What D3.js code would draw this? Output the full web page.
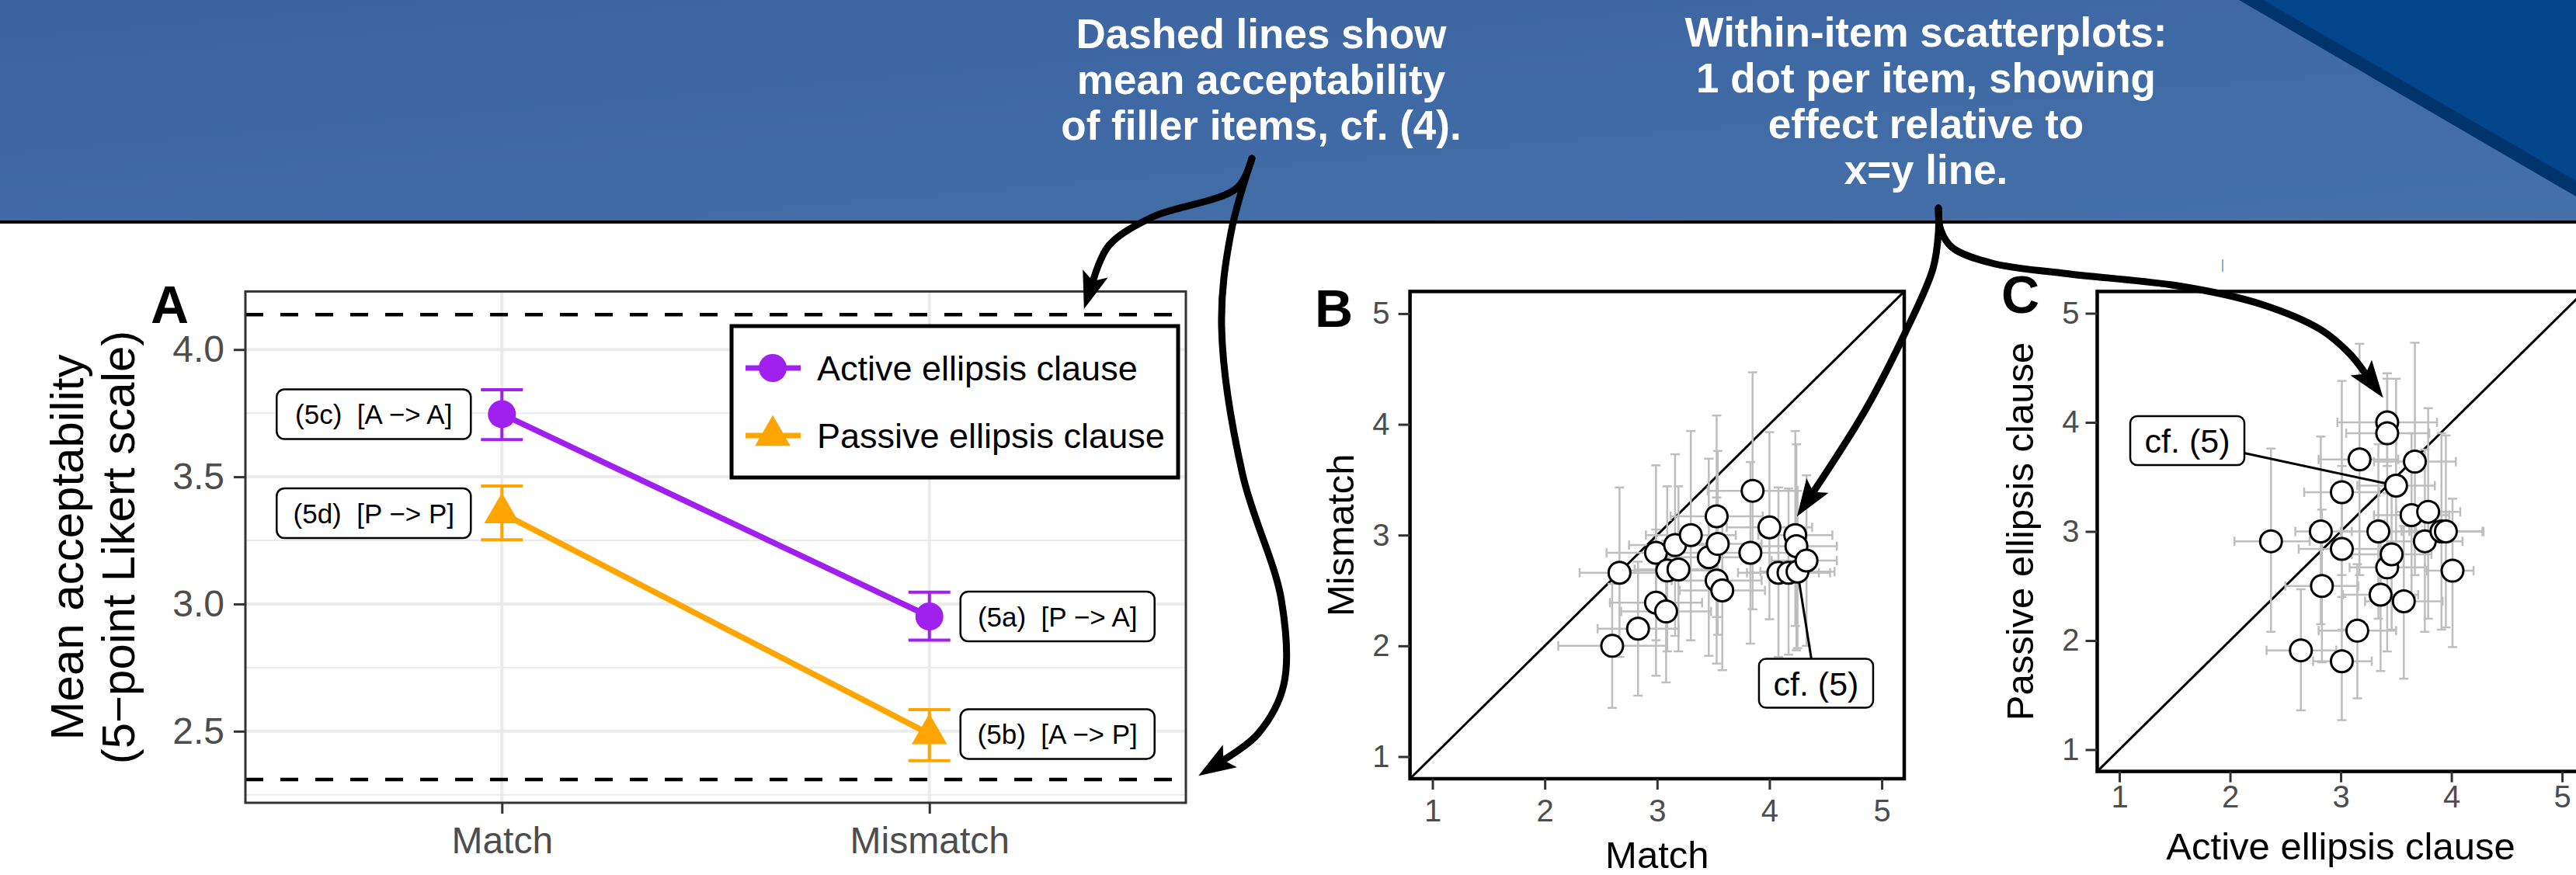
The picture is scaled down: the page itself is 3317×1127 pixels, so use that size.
<!DOCTYPE html>
<html lang="en">
<head>
  <meta charset="utf-8">
  <title>Ellipsis acceptability</title>
  <script src="https://d3js.org/d3.v7.min.js"></script>
  <style>
    body { margin: 0; background: #fff; }
    text { font-family: "Liberation Sans", Arial, Helvetica, sans-serif; }
  </style>
</head>
<body>
<script>
  // ---- panel A: condition means ----
  var conds = ["Match", "Mismatch"];
  var activeMean = [3.746, 2.951];
  var activeLo = [3.646, 2.858];
  var activeHi = [3.842, 3.046];
  var passiveMean = [3.357, 2.489];
  var passiveLo = [3.252, 2.384];
  var passiveHi = [3.464, 2.585];
  var activeLabels = ["(5c)  [A \u2212> A]", "(5a)  [P \u2212> A]"];
  var passiveLabels = ["(5d)  [P \u2212> P]", "(5b)  [A \u2212> P]"];
  var fillerMeans = [2.31, 4.137];     // dashed lines
  var ticksA = [2.5, 3.0, 3.5, 4.0];
  var minorA = [2.25, 2.75, 3.25, 3.75];

  // ---- panel B: one dot per item, Match vs Mismatch ----
  var bMatch    = [2.60, 2.665, 2.83, 2.99, 2.99, 3.08, 3.09, 3.16, 3.19, 3.30, 3.46, 3.53, 3.54, 3.53, 3.58, 3.85, 3.83, 4.00, 4.08, 4.17, 4.23, 4.24, 4.25, 4.33];
  var bMismatch = [2.00, 2.66, 2.155, 2.84, 2.39, 2.31, 2.68, 2.91, 2.69, 3.00, 2.80, 3.17, 2.92, 2.59, 2.50, 3.40, 2.84, 3.07, 2.66, 2.66, 3.00, 2.90, 2.67, 2.77];
  var bMatchLo  = [2.12, 2.31, 2.47, 2.55, 2.58, 2.68, 2.70, 2.75, 2.80, 2.90, 3.05, 3.12, 3.15, 3.13, 3.20, 3.45, 3.42, 3.62, 3.72, 3.80, 3.90, 3.88, 3.92, 4.02];
  var bMatchHi  = [3.08, 3.02, 3.19, 3.43, 3.40, 3.48, 3.48, 3.57, 3.58, 3.70, 3.87, 3.94, 3.93, 3.93, 3.96, 4.25, 4.24, 4.38, 4.44, 4.54, 4.56, 4.60, 4.58, 4.60];
  var bMisLo    = [1.44, 1.90, 1.55, 2.05, 1.73, 1.67, 1.95, 2.09, 1.95, 2.05, 1.91, 2.26, 2.10, 1.84, 1.78, 2.33, 2.02, 2.24, 1.90, 1.92, 2.18, 1.96, 1.98, 2.00];
  var bMisHi    = [2.56, 3.43, 2.76, 3.63, 3.05, 2.95, 3.44, 3.73, 3.44, 3.94, 3.69, 4.08, 3.76, 3.34, 3.22, 4.47, 3.66, 3.93, 3.43, 3.42, 3.94, 3.82, 3.40, 3.54];
  var bLabel = {x: 4.415, y: 1.662, item: 22, text: "cf. (5)"};

  // ---- panel C: one dot per item, Active vs Passive ellipsis clause ----
  var cActive   = [2.37, 2.64, 2.82, 2.83, 3.01, 3.01, 3.01, 3.15, 3.17, 3.34, 3.36, 3.42, 3.42, 3.42, 3.46, 3.50, 3.57, 3.64, 3.67, 3.79, 3.76, 3.91, 3.95, 4.01];
  var cPassive  = [2.91, 1.91, 3.00, 2.50, 3.36, 2.84, 1.81, 2.09, 3.66, 3.00, 2.42, 4.00, 3.90, 2.67, 2.79, 3.42, 2.36, 3.15, 3.64, 3.18, 2.91, 3.00, 3.00, 2.64];
  var cActLo    = [2.04, 2.33, 2.59, 2.50, 2.67, 2.62, 2.75, 2.80, 2.80, 3.00, 3.02, 2.97, 3.05, 3.08, 3.10, 3.15, 3.22, 3.30, 3.30, 3.50, 3.42, 3.55, 3.62, 3.78];
  var cActHi    = [2.72, 2.96, 3.10, 3.16, 3.35, 3.40, 3.28, 3.50, 3.52, 3.68, 3.70, 3.87, 3.80, 3.76, 3.82, 3.85, 3.92, 3.98, 4.04, 4.08, 4.10, 4.29, 4.28, 4.20];
  var cPasLo    = [2.08, 1.36, 2.15, 1.80, 2.60, 2.10, 1.27, 1.47, 2.60, 2.20, 1.72, 3.60, 3.35, 1.90, 2.10, 2.75, 1.65, 2.40, 2.60, 2.20, 2.08, 2.10, 2.12, 1.94];
  var cPasHi    = [3.76, 2.47, 3.87, 3.20, 4.38, 3.60, 2.40, 2.70, 4.72, 3.80, 3.10, 4.40, 4.45, 3.45, 3.50, 4.40, 3.05, 3.90, 4.73, 4.13, 3.75, 3.90, 3.88, 3.30];
  var cLabel = {x: 1.614, y: 3.833, item: 15, text: "cf. (5)"};
  var ticksBC = [1, 2, 3, 4, 5];

  // ---- banner notes ----
  var noteLeft = ["Dashed lines show", "mean acceptability", "of filler items, cf. (4)."];
  var noteRight = ["Within-item scatterplots:", "1 dot per item, showing", "effect relative to", "x=y line."];

  var W = 3317, H = 1127;
  var svg = d3.select("body").append("svg").attr("width", W).attr("height", H);

  // ================= banner =================
  var grad = svg.append("defs").append("linearGradient").attr("id", "bannerGrad")
    .attr("x1", "0").attr("y1", "0").attr("x2", "1").attr("y2", "1");
  grad.append("stop").attr("offset", "0").attr("stop-color", "#3a62a0");
  grad.append("stop").attr("offset", "1").attr("stop-color", "#4571a9");

  svg.append("rect").attr("x", 0).attr("y", 0).attr("width", W).attr("height", 286)
    .attr("fill", "url(#bannerGrad)");
  svg.append("polygon").attr("points", "2883,0 3317,0 3317,253").attr("fill", "#01346b");
  svg.append("polygon").attr("points", "2914,0 3317,0 3317,233").attr("fill", "#02458a");
  svg.append("line").attr("x1", 0).attr("x2", W).attr("y1", 286).attr("y2", 286)
    .attr("stroke", "#000").attr("stroke-width", 4);

  svg.selectAll(".noteL").data(noteLeft).enter().append("text")
    .attr("x", 1624).attr("y", function(d, i) { return 62 + i * 59; })
    .attr("text-anchor", "middle").attr("fill", "#fff")
    .attr("font-weight", "bold").attr("font-size", 53).text(function(d) { return d; });
  svg.selectAll(".noteR").data(noteRight).enter().append("text")
    .attr("x", 2480).attr("y", function(d, i) { return 60 + i * 59; })
    .attr("text-anchor", "middle").attr("fill", "#fff")
    .attr("font-weight", "bold").attr("font-size", 53).text(function(d) { return d; });

  // ================= panel A =================
  var aL = 316, aR = 1527, aT = 375.4, aB = 1034;
  var span = fillerMeans[1] - fillerMeans[0];
  var xA = d3.scalePoint().domain(conds).range([aL, aR]).padding(0.6);
  var yA = d3.scaleLinear()
    .domain([fillerMeans[0] - 0.05 * span, fillerMeans[1] + 0.05 * span])
    .range([aB, aT]);

  var gA = svg.append("g");
  gA.append("rect").attr("x", aL).attr("y", aT).attr("width", aR - aL).attr("height", aB - aT).attr("fill", "#fff");

  gA.selectAll(".minor").data(minorA).enter().append("line")
    .attr("x1", aL).attr("x2", aR).attr("y1", yA).attr("y2", yA)
    .attr("stroke", "#ebebeb").attr("stroke-width", 2);
  gA.selectAll(".major").data(ticksA).enter().append("line")
    .attr("x1", aL).attr("x2", aR).attr("y1", yA).attr("y2", yA)
    .attr("stroke", "#ebebeb").attr("stroke-width", 4);
  gA.selectAll(".vgrid").data(conds).enter().append("line")
    .attr("x1", xA).attr("x2", xA).attr("y1", aT).attr("y2", aB)
    .attr("stroke", "#ebebeb").attr("stroke-width", 4);

  gA.selectAll(".filler").data(fillerMeans).enter().append("line")
    .attr("x1", aL).attr("x2", aR).attr("y1", yA).attr("y2", yA)
    .attr("stroke", "#000").attr("stroke-width", 4.5).attr("stroke-dasharray", "23,22");

  var series = [
    {name: "Active ellipsis clause", color: "#a020f0", mean: activeMean, lo: activeLo, hi: activeHi, labels: activeLabels, sym: d3.symbolCircle, size: 1020},
    {name: "Passive ellipsis clause", color: "#ffa500", mean: passiveMean, lo: passiveLo, hi: passiveHi, labels: passiveLabels, sym: d3.symbolTriangle, size: 900}
  ];

  series.forEach(function(s) {
    var pts = conds.map(function(c, i) { return {c: c, m: s.mean[i], lo: s.lo[i], hi: s.hi[i], lab: s.labels[i], i: i}; });
    var line = d3.line().x(function(d) { return xA(d.c); }).y(function(d) { return yA(d.m); });
    gA.append("path").attr("d", line(pts)).attr("fill", "none")
      .attr("stroke", s.color).attr("stroke-width", 7.5);

    var eb = gA.selectAll(null).data(pts).enter().append("g").attr("stroke", s.color).attr("stroke-width", 4);
    eb.append("line").attr("x1", function(d) { return xA(d.c); }).attr("x2", function(d) { return xA(d.c); })
      .attr("y1", function(d) { return yA(d.lo); }).attr("y2", function(d) { return yA(d.hi); });
    eb.append("line").attr("x1", function(d) { return xA(d.c) - 27; }).attr("x2", function(d) { return xA(d.c) + 27; })
      .attr("y1", function(d) { return yA(d.lo); }).attr("y2", function(d) { return yA(d.lo); });
    eb.append("line").attr("x1", function(d) { return xA(d.c) - 27; }).attr("x2", function(d) { return xA(d.c) + 27; })
      .attr("y1", function(d) { return yA(d.hi); }).attr("y2", function(d) { return yA(d.hi); });

    gA.selectAll(null).data(pts).enter().append("path")
      .attr("d", d3.symbol().type(s.sym).size(s.size))
      .attr("transform", function(d) { return "translate(" + xA(d.c) + "," + yA(d.m) + ")"; })
      .attr("fill", s.color);

    // condition labels: left of Match, right of Mismatch
    var lab = gA.selectAll(null).data(pts).enter().append("g")
      .attr("transform", function(d) { return "translate(" + (xA(d.c) + (d.i === 0 ? -165 : 165)) + "," + yA(d.m) + ")"; });
    lab.append("rect").attr("x", -125).attr("y", -32).attr("width", 250).attr("height", 64)
      .attr("rx", 10).attr("fill", "#fff").attr("stroke", "#000").attr("stroke-width", 2.5);
    lab.append("text").attr("text-anchor", "middle").attr("dy", "0.36em")
      .attr("font-size", 35).style("white-space", "pre").text(function(d) { return d.lab; });
  });

  gA.append("rect").attr("x", aL).attr("y", aT).attr("width", aR - aL).attr("height", aB - aT)
    .attr("fill", "none").attr("stroke", "#333").attr("stroke-width", 3);

  // legend
  var leg = gA.append("g");
  leg.append("rect").attr("x", 942).attr("y", 420).attr("width", 575).attr("height", 195)
    .attr("fill", "#fff").attr("stroke", "#000").attr("stroke-width", 5);
  var legRow = leg.selectAll(null).data(series).enter().append("g")
    .attr("transform", function(d, i) { return "translate(0," + (474 + i * 87) + ")"; });
  legRow.append("line").attr("x1", 960).attr("x2", 1031).attr("stroke", function(d) { return d.color; }).attr("stroke-width", 7);
  legRow.append("path").attr("d", function(d) { return d3.symbol().type(d.sym).size(d.size)(); })
    .attr("transform", "translate(995,0)").attr("fill", function(d) { return d.color; });
  legRow.append("text").attr("x", 1052).attr("dy", "0.35em").attr("font-size", 45)
    .text(function(d) { return d.name; });

  // axes
  var axAy = gA.append("g").attr("transform", "translate(" + aL + ",0)")
    .call(d3.axisLeft(yA).tickValues(ticksA).tickFormat(d3.format(".1f")).tickSize(15).tickPadding(12));
  var axAx = gA.append("g").attr("transform", "translate(0," + aB + ")")
    .call(d3.axisBottom(xA).tickSize(14).tickPadding(17));
  [axAy, axAx].forEach(function(ax) {
    ax.select(".domain").remove();
    ax.selectAll("line").attr("stroke", "#333").attr("stroke-width", 3);
    ax.selectAll("text").attr("fill", "#4d4d4d").attr("font-size", 48)
      .attr("font-family", "'Liberation Sans', Arial, Helvetica, sans-serif");
  });

  gA.append("text").attr("transform", "translate(107,705) rotate(-90)").attr("text-anchor", "middle")
    .attr("font-size", 60).text("Mean acceptability");
  gA.append("text").attr("transform", "translate(173,705) rotate(-90)").attr("text-anchor", "middle")
    .attr("font-size", 60).text("(5\u2212point Likert scale)");
  gA.append("text").attr("x", 194).attr("y", 416).attr("font-size", 68).attr("font-weight", "bold").text("A");

  // ================= scatter panels B and C =================
  function scatter(opt) {
    var x = d3.scaleLinear().domain([0.8, 5.2]).range([opt.l, opt.r]);
    var y = d3.scaleLinear().domain([0.8, 5.2]).range([opt.b, opt.t]);
    var g = svg.append("g");
    var items = opt.xs.map(function(v, i) {
      return {x: v, y: opt.ys[i], xlo: opt.xlo[i], xhi: opt.xhi[i], ylo: opt.ylo[i], yhi: opt.yhi[i]};
    });

    g.append("line").attr("x1", x(0.8)).attr("y1", y(0.8)).attr("x2", x(5.2)).attr("y2", y(5.2))
      .attr("stroke", "#000").attr("stroke-width", 3);

    var eb = g.selectAll(null).data(items).enter().append("g")
      .attr("stroke", "#bebebe").attr("stroke-width", 2.5);
    eb.append("line").attr("x1", function(d) { return x(d.x); }).attr("x2", function(d) { return x(d.x); })
      .attr("y1", function(d) { return y(d.ylo); }).attr("y2", function(d) { return y(d.yhi); });
    eb.append("line").attr("x1", function(d) { return x(d.x) - 6; }).attr("x2", function(d) { return x(d.x) + 6; })
      .attr("y1", function(d) { return y(d.ylo); }).attr("y2", function(d) { return y(d.ylo); });
    eb.append("line").attr("x1", function(d) { return x(d.x) - 6; }).attr("x2", function(d) { return x(d.x) + 6; })
      .attr("y1", function(d) { return y(d.yhi); }).attr("y2", function(d) { return y(d.yhi); });
    eb.append("line").attr("y1", function(d) { return y(d.y); }).attr("y2", function(d) { return y(d.y); })
      .attr("x1", function(d) { return x(d.xlo); }).attr("x2", function(d) { return x(d.xhi); });
    eb.append("line").attr("y1", function(d) { return y(d.y) - 6; }).attr("y2", function(d) { return y(d.y) + 6; })
      .attr("x1", function(d) { return x(d.xlo); }).attr("x2", function(d) { return x(d.xlo); });
    eb.append("line").attr("y1", function(d) { return y(d.y) - 6; }).attr("y2", function(d) { return y(d.y) + 6; })
      .attr("x1", function(d) { return x(d.xhi); }).attr("x2", function(d) { return x(d.xhi); });

    // label segment, drawn under the dots
    var target = items[opt.label.item];
    g.append("line").attr("x1", x(opt.label.x) + opt.label.sx).attr("y1", y(opt.label.y) + opt.label.sy)
      .attr("x2", x(target.x)).attr("y2", y(target.y)).attr("stroke", "#000").attr("stroke-width", 3);

    g.selectAll(null).data(items).enter().append("circle")
      .attr("cx", function(d) { return x(d.x); }).attr("cy", function(d) { return y(d.y); })
      .attr("r", 14).attr("fill", "#fff").attr("stroke", "#000").attr("stroke-width", 3);

    var lb = g.append("g").attr("transform", "translate(" + x(opt.label.x) + "," + y(opt.label.y) + ")");
    lb.append("rect").attr("x", -73.5).attr("y", -31.5).attr("width", 147).attr("height", 63)
      .attr("rx", 9).attr("fill", "#fff").attr("stroke", "#000").attr("stroke-width", 2.5);
    lb.append("text").attr("text-anchor", "middle").attr("dy", "0.36em").attr("font-size", 43).text(opt.label.text);

    g.append("rect").attr("x", opt.l).attr("y", opt.t).attr("width", opt.r - opt.l).attr("height", opt.b - opt.t)
      .attr("fill", "none").attr("stroke", "#000").attr("stroke-width", 4.5);

    var ay = g.append("g").attr("transform", "translate(" + opt.l + ",0)")
      .call(d3.axisLeft(y).tickValues(ticksBC).tickFormat(d3.format("d")).tickSize(15).tickPadding(opt.padY));
    var ax = g.append("g").attr("transform", "translate(0," + opt.b + ")")
      .call(d3.axisBottom(x).tickValues(ticksBC).tickFormat(d3.format("d")).tickSize(14).tickPadding(opt.padX));
    [ay, ax].forEach(function(a) {
      a.select(".domain").remove();
      a.selectAll("line").attr("stroke", "#333").attr("stroke-width", 3);
      a.selectAll("text").attr("fill", "#4d4d4d").attr("font-size", 40)
        .attr("font-family", "'Liberation Sans', Arial, Helvetica, sans-serif");
    });

    g.append("text").attr("x", (opt.l + opt.r) / 2).attr("y", opt.xTitleY).attr("text-anchor", "middle")
      .attr("font-size", 49).text(opt.xTitle);
    g.append("text").attr("transform", "translate(" + opt.yTitleX + "," + ((opt.t + opt.b) / 2) + ") rotate(-90)")
      .attr("text-anchor", "middle").attr("font-size", 49).text(opt.yTitle);
    g.append("text").attr("x", opt.letterX).attr("y", opt.letterY).attr("font-size", 68)
      .attr("font-weight", "bold").text(opt.letter);
  }

  scatter({l: 1815.6, r: 2452, t: 375.4, b: 1003,
    xs: bMatch, ys: bMismatch, xlo: bMatchLo, xhi: bMatchHi, ylo: bMisLo, yhi: bMisHi,
    label: {x: bLabel.x, y: bLabel.y, item: bLabel.item, text: bLabel.text, sx: -6, sy: -31},
    padY: 11, padX: 13, xTitle: "Match", yTitle: "Mismatch", xTitleY: 1118, yTitleX: 1743,
    letter: "B", letterX: 1693, letterY: 421});

  scatter({l: 2700.5, r: 3327.6, t: 375.4, b: 993.6,
    xs: cActive, ys: cPassive, xlo: cActLo, xhi: cActHi, ylo: cPasLo, yhi: cPasHi,
    label: {x: cLabel.x, y: cLabel.y, item: cLabel.item, text: cLabel.text, sx: 73, sy: 16},
    padY: 8, padX: 4, xTitle: "Active ellipsis clause", yTitle: "Passive ellipsis clause", xTitleY: 1107, yTitleX: 2618,
    letter: "C", letterX: 2577, letterY: 403});

  // small stray tick seen above panel C
  svg.append("line").attr("x1", 2862).attr("x2", 2862).attr("y1", 334).attr("y2", 350)
    .attr("stroke", "#6f8fc0").attr("stroke-width", 1.5);

  // ================= curved call-out arrows =================
  var curve = d3.line().curve(d3.curveCatmullRom);
  function arrow(pts) {
    var p = svg.append("path").attr("d", curve(pts)).attr("fill", "none")
      .attr("stroke", "#000").attr("stroke-width", 9).attr("stroke-linecap", "round");
    var node = p.node(), L = node.getTotalLength();
    var p1 = node.getPointAtLength(L), p0 = node.getPointAtLength(L - 8);
    var ang = Math.atan2(p1.y - p0.y, p1.x - p0.x) * 180 / Math.PI;
    svg.append("path").attr("d", "M40,0 L-8,-17 L2,0 L-8,17 Z").attr("fill", "#000")
      .attr("transform", "translate(" + p1.x + "," + p1.y + ") rotate(" + ang + ")");
  }
  arrow([[1612, 204], [1593, 242], [1483, 280], [1428, 316], [1408, 360]]);
  arrow([[1612, 204], [1585, 300], [1573, 421], [1600, 611], [1650, 773], [1653, 882], [1620, 945], [1577, 978]]);
  arrow([[2496, 268], [2496, 300], [2489, 346], [2453, 429], [2402, 528], [2336, 632]]);
  arrow([[2496, 268], [2499, 296], [2514, 319], [2565, 339], [2657, 352], [2810, 369], [2912, 392], [2989, 425], [3025, 455], [3045, 480]]);
</script>
</body>
</html>
